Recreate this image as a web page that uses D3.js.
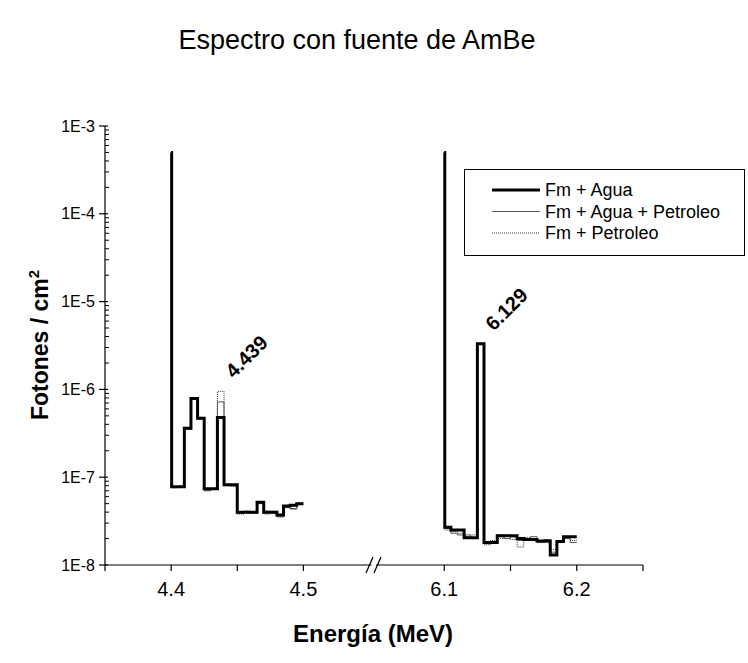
<!DOCTYPE html>
<html>
<head>
<meta charset="utf-8">
<script src="https://cdn.jsdelivr.net/npm/d3@7"></script>
<style>
  body { margin: 0; background: #fff; }
  text { font-family: Arial, "Liberation Sans", sans-serif; }
</style>
</head>
<body>
<svg id="chart"></svg>
<script>
// bin right edges (MeV) and fluence per series, step plot
var energyLeft = [4.400, 4.405, 4.410, 4.415, 4.420, 4.425, 4.430, 4.435, 4.440, 4.445, 4.450,
  4.455, 4.460, 4.465, 4.470, 4.475, 4.480, 4.485, 4.490, 4.495, 4.500];
var energyRight = [6.100, 6.105, 6.110, 6.115, 6.120, 6.125, 6.130, 6.135, 6.140, 6.145, 6.150,
  6.155, 6.160, 6.165, 6.170, 6.175, 6.180, 6.185, 6.190, 6.195, 6.200];

var aguaLeft = [5.0e-4, 7.8e-8, 7.8e-8, 3.6e-7, 7.9e-7, 4.7e-7, 7.4e-8, 7.4e-8, 4.8e-7, 8.2e-8, 8.2e-8,
  4.0e-8, 4.0e-8, 4.0e-8, 5.2e-8, 4.0e-8, 4.0e-8, 3.7e-8, 4.7e-8, 4.8e-8, 5.0e-8];
var aguaPetroLeft = [5.0e-4, 7.6e-8, 7.9e-8, 3.5e-7, 7.7e-7, 4.6e-7, 7.0e-8, 7.3e-8, 7.2e-7, 8.0e-8, 8.0e-8,
  3.9e-8, 4.1e-8, 3.9e-8, 5.0e-8, 4.1e-8, 3.9e-8, 3.6e-8, 4.5e-8, 4.4e-8, 4.9e-8];
var petroLeft = [5.0e-4, 7.9e-8, 7.7e-8, 3.7e-7, 7.8e-7, 4.8e-7, 7.1e-8, 7.5e-8, 9.5e-7, 8.1e-8, 7.9e-8,
  3.8e-8, 3.9e-8, 4.0e-8, 5.1e-8, 3.8e-8, 4.1e-8, 3.5e-8, 4.6e-8, 4.3e-8, 5.1e-8];

var aguaRight = [5.0e-4, 2.7e-8, 2.5e-8, 2.5e-8, 2.05e-8, 2.05e-8, 3.3e-6, 1.8e-8, 1.8e-8, 2.15e-8, 2.15e-8,
  2.15e-8, 2.0e-8, 1.95e-8, 1.95e-8, 1.88e-8, 1.88e-8, 1.3e-8, 1.85e-8, 2.1e-8, 2.1e-8];
var aguaPetroRight = [5.0e-4, 2.6e-8, 2.3e-8, 2.2e-8, 2.2e-8, 2.0e-8, 3.3e-6, 1.75e-8, 1.85e-8, 2.2e-8, 2.0e-8,
  2.1e-8, 1.9e-8, 2.0e-8, 2.1e-8, 1.8e-8, 1.95e-8, 1.4e-8, 1.9e-8, 2.0e-8, 1.8e-8];
var petroRight = [5.0e-4, 2.5e-8, 2.4e-8, 2.3e-8, 2.1e-8, 2.2e-8, 3.3e-6, 1.7e-8, 1.9e-8, 2.0e-8, 2.2e-8,
  1.95e-8, 1.6e-8, 2.05e-8, 2.0e-8, 1.9e-8, 1.8e-8, 1.5e-8, 1.8e-8, 2.05e-8, 1.9e-8];

var seriesNames = ['Fm + Agua', 'Fm + Agua + Petroleo', 'Fm + Petroleo'];
var yTickLabels = ['1E-8', '1E-7', '1E-6', '1E-5', '1E-4', '1E-3'];
var xMajorTicks = [4.4, 4.5, 6.1, 6.2];
var xMinorTicks = [4.35, 4.45, 6.15, 6.25];
var peaks = [{label: '4.439', e: 4.439, v: 9.5e-7}, {label: '6.129', e: 6.129, v: 3.3e-6}];

var W = 748, H = 663;
var plotLeft = 105, plotRight = 643, plotTop = 126, plotBottom = 565;

var svg = d3.select('#chart').attr('width', W).attr('height', H);

// broken x axis: two segments with a small gap
var x = d3.scaleLinear()
  .domain([4.35, 4.55, 6.05, 6.25])
  .range([plotLeft, 369.5, 378, plotRight]);
var y = d3.scaleLog().domain([1e-8, 1e-3]).range([plotBottom, plotTop]);

var styles = [
  {width: 3, color: '#000', dash: null},
  {width: 1, color: '#555', dash: null},
  {width: 1, color: '#333', dash: '1,1'}
];

var line = d3.line()
  .x(function(d) { return x(d[0]); })
  .y(function(d) { return y(d[1]); })
  .curve(d3.curveStepBefore);

function zip(es, vs) {
  return es.map(function(e, i) { return [e, vs[i]]; });
}

var groups = [
  [zip(energyLeft, aguaLeft), zip(energyRight, aguaRight)],
  [zip(energyLeft, aguaPetroLeft), zip(energyRight, aguaPetroRight)],
  [zip(energyLeft, petroLeft), zip(energyRight, petroRight)]
];

// draw thin ones first, thick on top
[2, 1, 0].forEach(function(k) {
  groups[k].forEach(function(seg) {
    // first point is the narrow spike at the segment start
    var pts = [[seg[0][0], seg[0][1]], [seg[0][0] + 0.0004, seg[0][1]]].concat(seg.slice(1));
    svg.append('path')
      .attr('d', line(pts))
      .attr('fill', 'none')
      .attr('stroke', styles[k].color)
      .attr('stroke-width', styles[k].width)
      .attr('stroke-dasharray', styles[k].dash)
      .attr('stroke-linejoin', 'miter');
  });
});

// y axis
var yAxis = svg.append('g');
yAxis.append('line').attr('x1', plotLeft).attr('x2', plotLeft).attr('y1', plotTop).attr('y2', plotBottom)
  .attr('stroke', '#000').attr('stroke-width', 1.2);
yTickLabels.forEach(function(lab, i) {
  var v = Math.pow(10, -8 + i);
  yAxis.append('line').attr('x1', plotLeft - 6).attr('x2', plotLeft + 3)
    .attr('y1', y(v)).attr('y2', y(v)).attr('stroke', '#000').attr('stroke-width', 1.2);
  yAxis.append('text').attr('x', plotLeft - 10).attr('y', y(v)).attr('dy', '0.35em')
    .attr('text-anchor', 'end').attr('font-size', 16).text(lab);
  if (i < yTickLabels.length - 1) {
    for (var m = 2; m <= 9; m++) {
      yAxis.append('line').attr('x1', plotLeft).attr('x2', plotLeft + 4)
        .attr('y1', y(v * m)).attr('y2', y(v * m)).attr('stroke', '#000').attr('stroke-width', 1);
    }
  }
});

// x axis, two pieces plus break mark
var xAxis = svg.append('g');
xAxis.append('line').attr('x1', plotLeft).attr('x2', 371.5).attr('y1', plotBottom).attr('y2', plotBottom)
  .attr('stroke', '#000').attr('stroke-width', 1.2);
xAxis.append('line').attr('x1', 376).attr('x2', plotRight).attr('y1', plotBottom).attr('y2', plotBottom)
  .attr('stroke', '#000').attr('stroke-width', 1.2);
[366, 374].forEach(function(bx) {
  xAxis.append('line').attr('x1', bx).attr('x2', bx + 7).attr('y1', plotBottom + 8).attr('y2', plotBottom - 8)
    .attr('stroke', '#000').attr('stroke-width', 1.2);
});
xMajorTicks.concat(xMinorTicks).forEach(function(t) {
  xAxis.append('line').attr('x1', x(t)).attr('x2', x(t)).attr('y1', plotBottom).attr('y2', plotBottom + 6)
    .attr('stroke', '#000').attr('stroke-width', 1.2);
});
xMajorTicks.forEach(function(t) {
  xAxis.append('text').attr('x', x(t)).attr('y', plotBottom + 31)
    .attr('text-anchor', 'middle').attr('font-size', 20).text(d3.format('.1f')(t));
});

// titles
svg.append('text').attr('x', 357).attr('y', 49).attr('text-anchor', 'middle')
  .attr('font-size', 27).text('Espectro con fuente de AmBe');
svg.append('text').attr('x', 373).attr('y', 642).attr('text-anchor', 'middle')
  .attr('font-size', 24).attr('font-weight', 'bold').text('Energía (MeV)');
var yl = svg.append('text').attr('transform', 'translate(48,345) rotate(-90)')
  .attr('text-anchor', 'middle').attr('font-size', 23).attr('font-weight', 'bold');
yl.append('tspan').text('Fotones / cm');
yl.append('tspan').attr('dy', -9).attr('font-size', 15).text('2');

// peak labels
peaks.forEach(function(p) {
  var px = x(p.e) + 11, py = y(p.v) - 12;
  svg.append('text').attr('transform', 'translate(' + px + ',' + py + ') rotate(-45)')
    .attr('font-size', 20).attr('font-weight', 'bold').text(p.label);
});

// legend
var lg = svg.append('g');
lg.append('rect').attr('x', 464.5).attr('y', 169.5).attr('width', 280).attr('height', 86)
  .attr('fill', '#fff').attr('stroke', '#000').attr('stroke-width', 1);
seriesNames.forEach(function(name, k) {
  var ly = 190 + k * 21.5;
  lg.append('line').attr('x1', 492).attr('x2', 540).attr('y1', ly).attr('y2', ly)
    .attr('stroke', styles[k].color).attr('stroke-width', styles[k].width)
    .attr('stroke-dasharray', styles[k].dash);
  lg.append('text').attr('x', 545).attr('y', ly).attr('dy', '0.35em')
    .attr('font-size', 18).text(name);
});
</script>
</body>
</html>
